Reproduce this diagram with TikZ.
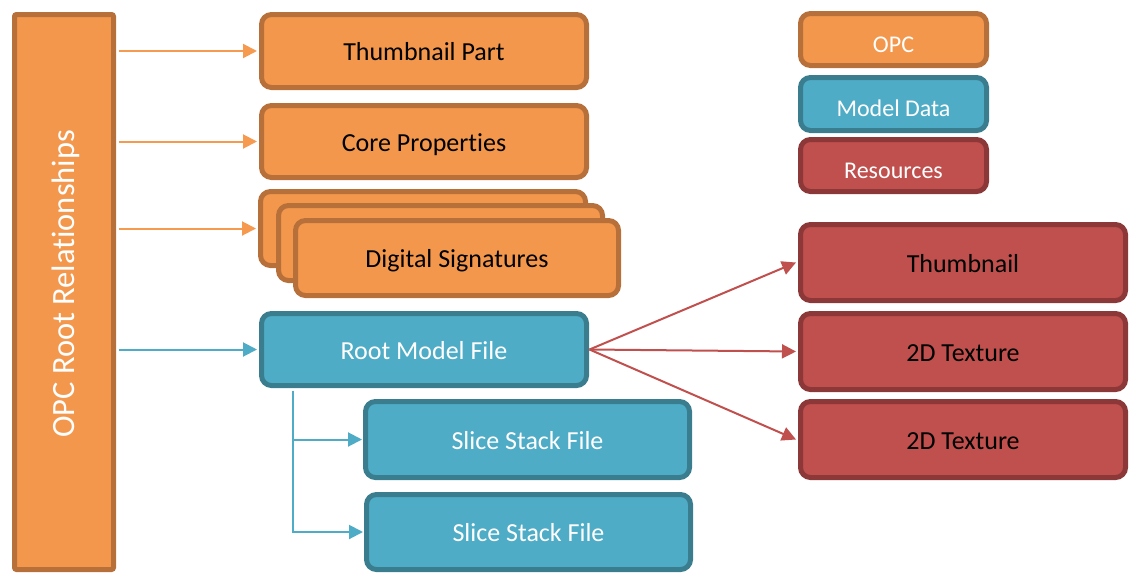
\documentclass[tikz,border=0pt]{standalone}
\usepackage{fontspec}
\setmainfont{Carlito}[Ligatures={NoCommon}]
\usetikzlibrary{arrows.meta}
\definecolor{ofill}{HTML}{F3974D}
\definecolor{oline}{HTML}{B8703A}
\definecolor{oarrow}{HTML}{F59A4E}
\definecolor{bfill}{HTML}{4FACC6}
\definecolor{bline}{HTML}{3A7D8F}
\definecolor{rfill}{HTML}{C0504D}
\definecolor{rline}{HTML}{8C3838}
\tikzset{
  box/.style={rounded corners=10pt, line width=5pt, inner sep=0pt, font=\fontsize{26}{30}\selectfont, text height=22pt, text depth=2.6pt},
  obox/.style={box, fill=ofill, draw=oline, text=black},
  bbox/.style={box, fill=bfill, draw=bline, text=white},
  rbox/.style={box, fill=rfill, draw=rline, text=black},
  legend/.style={font=\fontsize{24}{28}\selectfont, text=white, minimum width=186pt, minimum height=52pt, text height=25pt, text depth=0pt},
  conn/.style={line width=2pt, -{Triangle[length=14pt,width=14pt]}},
  oconn/.style={conn, draw=oarrow},
  bconn/.style={conn, draw=bfill},
  rconn/.style={conn, draw=rfill}
}
\begin{document}
\begin{tikzpicture}[x=1pt,y=-1pt]
\useasboundingbox (0,0) rectangle (1140,584);
% root column
\node[obox, rounded corners=2pt, minimum width=99pt, minimum height=555pt] (root) at (64,292) {};
\node[rotate=90, text=white, font=\fontsize{32.5}{36}\selectfont, text height=22.75pt, text depth=6.5pt, inner sep=0pt] (rootlabel) at (66.5,284) {OPC Root Relationships};
% OPC parts
\node[obox, minimum width=325pt, minimum height=73pt] (thumbpart) at (424,51) {Thumbnail Part};
\node[obox, minimum width=325pt, minimum height=72pt] (core) at (424,141.5) {Core Properties};
\node[obox, minimum width=325pt, minimum height=74pt] (ds1) at (423,228.5) {};
\node[obox, minimum width=324pt, minimum height=75pt] (ds2) at (440.5,243) {};
\node[obox, minimum width=323pt, minimum height=75pt] (ds3) at (457,258) {Digital Signatures};
% model data
\node[bbox, minimum width=325pt, minimum height=72pt] (rmf) at (424,349.5) {Root Model File};
\node[bbox, minimum width=324pt, minimum height=76pt] (s1) at (527.5,439.5) {Slice Stack File};
\node[bbox, minimum width=324pt, minimum height=75pt] (s2) at (528.5,532) {Slice Stack File};
% legend
\node[obox, legend] (lopc) at (893.5,39.5) {OPC};
\node[bbox, legend, minimum height=53pt] (lmd) at (893.5,104) {Model Data};
\node[rbox, legend] (lres) at (893.5,165.5) {Resources};
% resources
\node[rbox, minimum width=325pt, minimum height=76pt] (rthumb) at (963,262.5) {Thumbnail};
\node[rbox, minimum width=325pt, minimum height=76pt] (tex1) at (963,351.5) {2D Texture};
\node[rbox, minimum width=325pt, minimum height=76pt] (tex2) at (963,439.5) {2D Texture};
% connectors
\draw[oconn] ([xshift=2.5pt]root.east |- thumbpart.west) -- ([xshift=-2pt]thumbpart.west);
\draw[oconn] ([xshift=2.5pt]root.east |- core.west) -- ([xshift=-2pt]core.west);
\draw[oconn] ([xshift=2.5pt]root.east |- ds1.west) -- ([xshift=-2pt]ds1.west);
\draw[bconn] ([xshift=2.5pt]root.east |- rmf.west) -- ([xshift=-2pt]rmf.west);
\draw[bconn] ([xshift=33.5pt,yshift=-2.5pt]rmf.south west) |- ([xshift=-1pt]s1.west);
\draw[bconn] ([xshift=33.5pt,yshift=-2.5pt]rmf.south west) |- ([xshift=-1pt]s2.west);
\draw[rconn] ([xshift=0.5pt]rmf.east) -- ([xshift=-2pt]rthumb.west);
\draw[rconn] ([xshift=0.5pt]rmf.east) -- ([xshift=-2pt]tex1.west);
\draw[rconn] ([xshift=0.5pt]rmf.east) -- ([xshift=-2pt]tex2.west);
\end{tikzpicture}
\end{document}
